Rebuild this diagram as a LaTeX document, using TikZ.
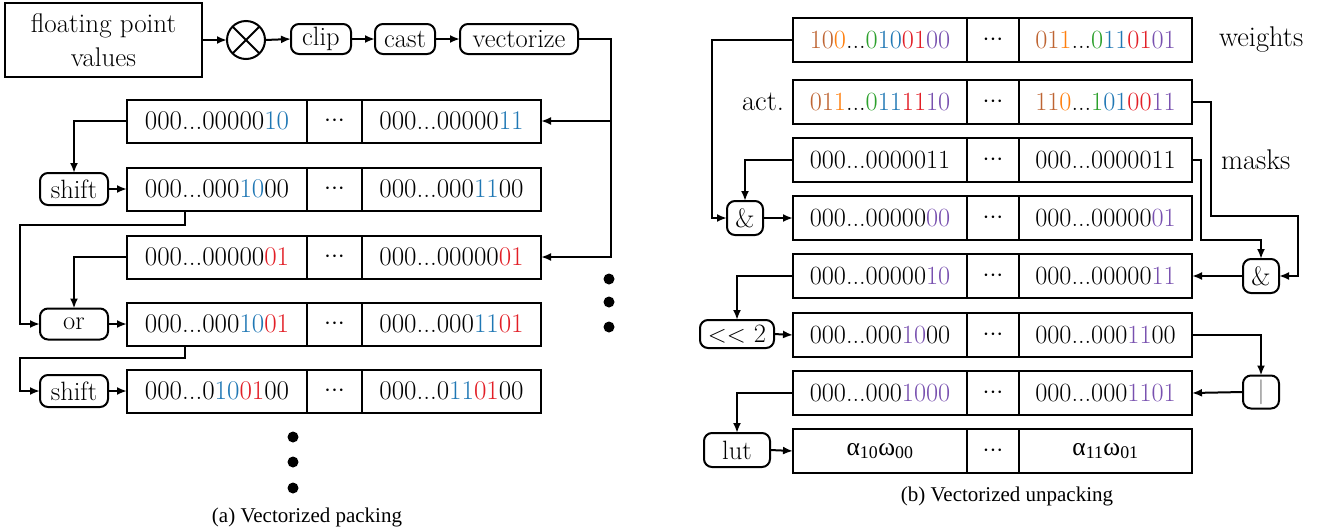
\documentclass[tikz,border=0pt]{standalone}
\usepackage{fontspec}
\newfontfamily\tms{Liberation Serif}
\usetikzlibrary{arrows.meta}
\definecolor{cblue}{RGB}{31,119,180}
\definecolor{cred}{RGB}{226,30,38}
\definecolor{cbrown}{RGB}{190,100,50}
\definecolor{corange}{RGB}{255,127,14}
\definecolor{cgreen}{RGB}{44,160,44}
\definecolor{cpurple}{RGB}{120,80,175}
\newcommand\cB[1]{\textcolor{cblue}{#1}}
\newcommand\cR[1]{\textcolor{cred}{#1}}
\newcommand\cN[1]{\textcolor{cbrown}{#1}}
\newcommand\cO[1]{\textcolor{corange}{#1}}
\newcommand\cG[1]{\textcolor{cgreen}{#1}}
\newcommand\cP[1]{\textcolor{cpurple}{#1}}
\newcommand\mdots{\makebox[0pt]{${\cdotp}{\cdotp}{\cdotp}$}}
\tikzset{
  every path/.style={line width=2pt},
  cell/.style={draw, inner sep=0pt, outer sep=0pt, minimum height=43pt, anchor=west},
  lcell/.style={cell, font=\fontsize{27}{32}\selectfont},
  rcell/.style={cell, minimum height=44pt, font=\fontsize{26.3}{32}\selectfont},
  opbox/.style={draw, rounded corners=8pt, inner sep=0pt, outer sep=0pt, font=\fontsize{26.5}{32}\selectfont},
  plainbox/.style={draw, inner sep=0pt, outer sep=0pt, font=\fontsize{27}{34}\selectfont, align=center},
  lbl/.style={inner sep=0pt, font=\fontsize{28.5}{34}\selectfont},
  captext/.style={inner sep=0pt, font=\tms\fontsize{21}{24}\selectfont},
  arr/.style={-{Latex[length=10pt,width=8pt]}}
}
% left row: name, y, text1, text3
\newcommand\LRow[4]{%
  \node[lcell, minimum width=180pt] (#1-a) at (127,#2) {#3};
  \node[lcell, minimum width=55pt] (#1-b) at (#1-a.east) {\mdots};
  \node[lcell, minimum width=179pt] (#1-c) at (#1-b.east) {#4};}
% right row
\newcommand\RRow[4]{%
  \node[rcell, minimum width=174pt] (#1-a) at (793,#2) {#3};
  \node[rcell, minimum width=52pt] (#1-b) at (#1-a.east) {\mdots};
  \node[rcell, minimum width=173pt] (#1-c) at (#1-b.east) {#4};}
\begin{document}
\begin{tikzpicture}[x=1pt,y=-1pt]
\useasboundingbox (0,0) rectangle (1325,531);

% ---------------- (a) packing ----------------
\node[plainbox, minimum width=197pt, minimum height=74pt] (fp) at (103.5,40) {floating point\\values};
\node[draw, circle, minimum size=38pt, inner sep=0pt, outer sep=0pt] (mul) at (246,40) {};
\draw (mul.north east) -- (mul.south west) (mul.north west) -- (mul.south east);
\node[opbox, minimum width=60pt, minimum height=30pt] (clip) at (321,39) {clip};
\node[opbox, minimum width=60pt, minimum height=30pt] (cast) at (405,39) {cast};
\node[opbox, minimum width=118pt, minimum height=30pt] (vec) at (519,39) {vectorize};
\draw[arr] (fp.east |- mul.west) -- (mul.west);
\draw[arr] (mul.east) -- (clip.west);
\draw[arr] (clip.east) -- (cast.west);
\draw[arr] (cast.east) -- (vec.west);

\LRow{L1}{121}{000...00000\cB{10}}{000...00000\cB{11}}
\LRow{L2}{189}{000...000\cB{10}00}{000...000\cB{11}00}
\LRow{L3}{257}{000...00000\cR{01}}{000...00000\cR{01}}
\LRow{L4}{324}{000...000\cB{10}\cR{01}}{000...000\cB{11}\cR{01}}
\LRow{L5}{391}{000...0\cB{10}\cR{01}00}{000...0\cB{11}\cR{01}00}

\node[opbox, minimum width=68pt, minimum height=32pt] (sh1) at (74,189) {shift};
\node[opbox, minimum width=68pt, minimum height=31pt] (or) at (74,324) {or};
\node[opbox, minimum width=68pt, minimum height=32pt] (sh2) at (74,391) {shift};

\draw[arr] (vec.east) -- (611,39) |- (L1-c.east);
\draw[arr] (611,121) |- (L3-c.east);
\draw[arr] (L1-a.west) -| (sh1.north);
\draw[arr] (sh1.east) -- (L2-a.west);
\draw[arr] ([xshift=-32pt]L2-a.south) |- (20,225) |- (or.west);
\draw[arr] (L3-a.west) -| (or.north);
\draw[arr] (or.east) -- (L4-a.west);
\draw[arr] ([xshift=-32pt]L4-a.south) |- (20,358) |- (sh2.west);
\draw[arr] (sh2.east) -- (L5-a.west);

\foreach \yy in {437,462,488} \fill (293,\yy) circle (5.5pt);
\foreach \yy in {279,302,327} \fill (609,\yy) circle (5.5pt);

\node[captext] (capa) at (307,517) {(a) Vectorized packing};

% ---------------- (b) unpacking ----------------
\RRow{R1}{40}{\cN{10}\cO{0}...\cG{0}\cB{10}\cR{01}\cP{00}}{\cN{01}\cO{1}...\cG{0}\cB{11}\cR{01}\cP{01}}
\RRow{R2}{102}{\cN{01}\cO{1}...\cG{0}\cB{11}\cR{11}\cP{10}}{\cN{11}\cO{0}...\cG{1}\cB{01}\cR{00}\cP{11}}
\RRow{R3}{160}{000...0000011}{000...0000011}
\RRow{R4}{218}{000...00000\cP{00}}{000...00000\cP{01}}
\RRow{R5}{276}{000...00000\cP{10}}{000...00000\cP{11}}
\RRow{R6}{335}{000...000\cP{10}00}{000...000\cP{11}00}
\RRow{R7}{393}{000...000\cP{1000}}{000...000\cP{1101}}
\RRow{R8}{451}{\tms\fontsize{25.5}{30}\selectfont α\textsubscript{10}ω\textsubscript{00}}{\tms\fontsize{25.5}{30}\selectfont α\textsubscript{11}ω\textsubscript{01}}

\node[lbl, anchor=west] (wl) at (1218,40) {weights};
\node[lbl, anchor=east] (al) at (785,102) {act.};
\node[lbl, anchor=west] (ml) at (1220,160) {masks};

\node[opbox, minimum width=36pt, minimum height=34pt] (and1) at (745,218) {\&};
\node[opbox, minimum width=36pt, minimum height=34pt] (and2) at (1261,276) {\&};
\node[opbox, minimum width=74pt, minimum height=28pt] (shl) at (737,334) {$<<$ 2};
\node[opbox, minimum width=36pt, minimum height=33pt] (bar) at (1261,392) {\textcolor{black!60}{$|$}};
\node[opbox, minimum width=66pt, minimum height=34pt] (lut) at (737,450) {lut};

\draw[arr] (R1-a.west) -- (712,40) |- (and1.west);
\draw[arr] (R3-a.west) -| (and1.north);
\draw[arr] (and1.east) -- (R4-a.west);
\draw[arr] (R2-c.east) -- (1211,102) |- (1298,216) |- (and2.east);
\draw[arr] (R3-c.east) -- (1201,160) |- (1261,240) -- (and2.north);
\draw[arr] (and2.west) -- (R5-c.east);
\draw[arr] (R5-a.west) -| (shl.north);
\draw[arr] (shl.east) -- (R6-a.west);
\draw[arr] (R6-c.east) -| (bar.north);
\draw[arr] (bar.west) -- (R7-c.east);
\draw[arr] (R7-a.west) -| (lut.north);
\draw[arr] (lut.east) -- (R8-a.west);

\node[captext] (capb) at (1007,496) {(b) Vectorized unpacking};
\end{tikzpicture}
\end{document}
